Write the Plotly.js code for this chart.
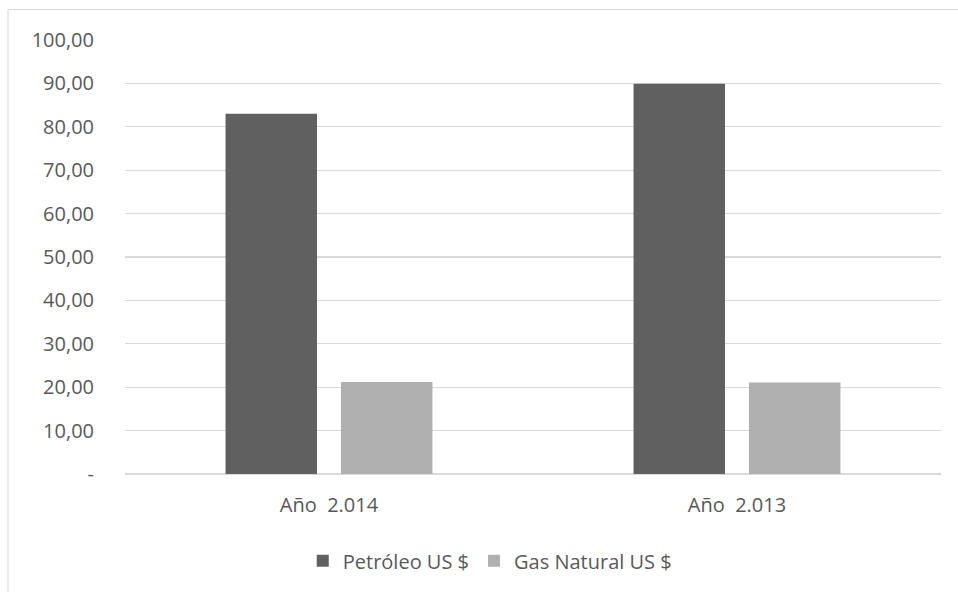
<!DOCTYPE html>
<html>
<head>
<meta charset="utf-8">
<script src="https://cdn.plot.ly/plotly-3.0.1.min.js"></script>
<style>
  html, body { margin: 0; padding: 0; background: #ffffff; }
  #chart { width: 958px; height: 592px; }
</style>
</head>
<body>
<div id="chart"></div>
<script>
// Data
const categories = ["Año  2.014", "Año  2.013"];
const petroleoValues = [83.0, 89.9];
const gasValues = [21.2, 21.1];
const seriesNames = ["Petróleo US $", "Gas Natural US $"];
const yTickValues = [0, 10, 20, 30, 40, 50, 60, 70, 80, 90, 100];
const yTickLabels = ["-", "10,00", "20,00", "30,00", "40,00", "50,00", "60,00", "70,00", "80,00", "90,00", "100,00"];

const fontFamily = "'Open Sans', 'Noto Sans', sans-serif";
const textColor = "#595959";
const gridColor = "#d9d9d9";

const traces = [
  {
    type: "bar",
    name: seriesNames[0],
    x: categories,
    y: petroleoValues,
    marker: { color: "#606060", line: { width: 0 } },
    hoverinfo: "skip"
  },
  {
    type: "bar",
    name: seriesNames[1],
    x: categories,
    y: gasValues,
    marker: { color: "#b0b0b0", line: { width: 0 } },
    hoverinfo: "skip"
  }
];

const layout = {
  width: 958,
  height: 592,
  paper_bgcolor: "#ffffff",
  plot_bgcolor: "#ffffff",
  margin: { l: 125, r: 17, t: 39.5, b: 118, pad: 0 },
  font: { family: fontFamily, size: 20, color: textColor },
  barmode: "group",
  bargap: 0.434,
  bargroupgap: 0.208,
  showlegend: true,
  legend: {
    orientation: "h",
    x: 0.447,
    xanchor: "center",
    y: -0.2,
    yanchor: "middle",
    font: { family: fontFamily, size: 20, color: textColor },
    bgcolor: "rgba(0,0,0,0)",
    traceorder: "normal"
  },
  xaxis: {
    type: "category",
    showgrid: false,
    showline: false,
    zeroline: false,
    ticks: "",
    ticklabelstandoff: 17,
    tickfont: { family: fontFamily, size: 20, color: textColor }
  },
  yaxis: {
    range: [0, 100],
    tickvals: yTickValues,
    ticktext: yTickLabels,
    showgrid: true,
    gridcolor: gridColor,
    gridwidth: 1.3,
    zeroline: true,
    zerolinecolor: gridColor,
    zerolinewidth: 1.3,
    showline: false,
    ticks: "",
    ticklabelstandoff: 30,
    tickfont: { family: fontFamily, size: 20, color: textColor }
  },
  shapes: [
    { type: "line", xref: "paper", yref: "paper", x0: -0.1434, x1: 1.05, y0: 1.0702, y1: 1.0702, line: { color: gridColor, width: 1 } },
    { type: "line", xref: "paper", yref: "paper", x0: -0.1434, x1: -0.1434, y0: 1.0702, y1: -0.3, line: { color: gridColor, width: 1 } }
  ]
};

Plotly.newPlot("chart", traces, layout, { staticPlot: true, displayModeBar: false });
</script>
</body>
</html>
